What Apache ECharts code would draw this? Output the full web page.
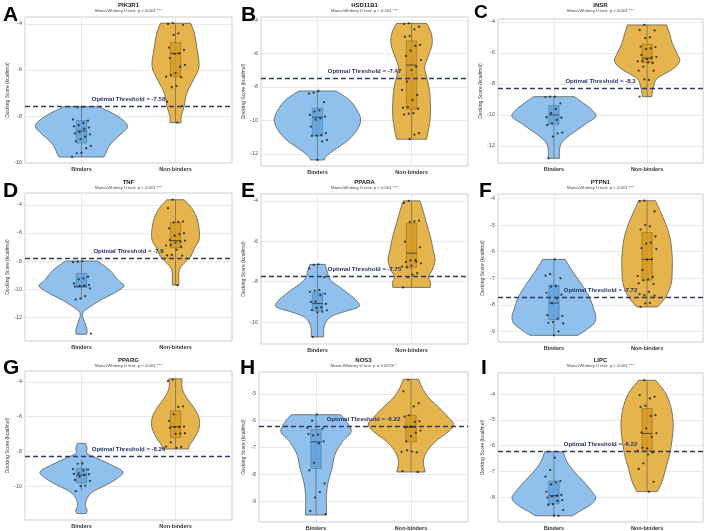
<!DOCTYPE html>
<html><head><meta charset="utf-8">
<script src="https://cdn.jsdelivr.net/npm/echarts@6/dist/echarts.min.js"></script>
<style>html,body{margin:0;padding:0;background:#fff}#c{width:708px;height:531px}</style>
</head><body><div id="c"></div>
<script>
// ---------- data ----------
const groups = ['Binders', 'Non-binders'];
const genes = ['PIK3R1', 'HSD11B1', 'INSR', 'TNF', 'PPARA', 'PTPN1', 'PPARG', 'NOS3', 'LIPC'];
const letters = ['A', 'B', 'C', 'D', 'E', 'F', 'G', 'H', 'I'];
const pTexts = ['p < 0.001 ***', 'p < 0.001 ***', 'p < 0.001 ***', 'p < 0.001 ***', 'p < 0.001 ***',
  'p < 0.001 ***', 'p < 0.001 ***', 'p = 0.0219 *', 'p < 0.001 ***'];
const thresholds = [-7.58, -7.47, -8.3, -7.8, -7.75, -7.72, -8.26, -6.22, -6.22];
const yTicks = [
  [-10, -8, -6, -4], [-12, -10, -8, -6, -4], [-12, -10, -8, -6, -4],
  [-12, -10, -8, -6, -4], [-10, -8, -6, -4], [-9, -8, -7, -6, -5, -4],
  [-10, -8, -6, -4], [-9, -8, -7, -6, -5], [-8, -7, -6, -5, -4]
];
const yRanges = [
  [-10.04, -3.70], [-12.72, -3.82], [-13.1, -3.81],
  [-13.69, -3.16], [-11.08, -3.66], [-9.4, -3.83],
  [-11.95, -3.38], [-9.77, -4.19], [-8.97, -3.18]
];

// docking scores (kcal/mol) per gene and group
const pik3r1Binders = [-7.6, -7.62, -8.15, -8.2, -8.3, -8.4, -8.45, -8.5, -8.55, -8.7, -8.75, -8.8, -8.9, -9.0, -9.1, -9.3, -9.4, -9.6, -9.62, -9.78];
const pik3r1NonBinders = [-3.97, -4.0, -4.04, -4.41, -4.48, -5.03, -5.13, -5.28, -5.3, -5.49, -5.78, -5.86, -6.14, -6.22, -6.29, -6.32, -6.7, -6.75, -7.38, -7.57, -8.29];
const hsd11b1Binders = [-8.24, -8.34, -8.4, -8.91, -9.4, -9.47, -9.67, -9.77, -9.87, -9.95, -10.37, -10.76, -10.87, -10.9, -10.92, -11.16, -11.25, -12.36];
const hsd11b1NonBinders = [-4.2, -4.24, -4.4, -4.56, -4.96, -5.0, -5.49, -5.55, -5.83, -6.15, -6.39, -6.79, -6.99, -7.68, -8.18, -8.48, -8.78, -9.2, -9.24, -9.3, -9.57, -9.6, -9.65, -10.76, -10.85, -11.12];
const insrBinders = [-8.82, -8.82, -8.85, -9.25, -9.63, -9.89, -10.15, -10.18, -10.32, -10.54, -10.65, -11.14, -11.19, -11.4, -12.8];
const insrNonBinders = [-4.19, -4.52, -4.55, -4.99, -5.05, -5.59, -5.62, -5.7, -5.75, -6.13, -6.25, -6.3, -6.4, -6.52, -6.55, -6.65, -6.6, -6.88, -7.14, -7.15, -7.74, -7.7, -8.82];
const tnfBinders = [-8.0, -8.05, -8.08, -9.12, -9.24, -9.3, -9.6, -9.7, -9.75, -9.79, -9.82, -9.95, -10.5, -10.67, -10.74, -13.17];
const tnfNonBinders = [-3.64, -4.24, -5.19, -5.22, -5.25, -5.67, -6.02, -6.1, -6.2, -6.5, -6.55, -6.62, -6.7, -6.86, -6.9, -7.0, -7.21, -7.57, -7.6, -7.62, -9.71];
const pparaBinders = [-7.14, -7.17, -7.34, -7.78, -8.41, -8.45, -8.5, -8.6, -8.66, -8.99, -9.0, -9.1, -9.27, -9.3, -9.4, -9.42, -9.49, -9.52, -10.73];
const pparaNonBinders = [-4.0, -4.1, -4.98, -5.02, -5.05, -6.02, -6.3, -6.93, -6.95, -7.02, -7.09, -7.0, -7.2, -7.29, -7.25, -7.58, -7.65, -7.78, -8.28];
const ptpn1Binders = [-6.29, -6.84, -6.9, -7.0, -7.3, -7.32, -7.55, -7.62, -7.76, -7.95, -8.39, -8.42, -8.52, -8.65, -8.68, -8.7, -9.0, -9.15];
const ptpn1NonBinders = [-4.08, -4.1, -4.48, -5.05, -5.0, -5.17, -5.43, -5.66, -5.7, -5.87, -5.9, -6.29, -6.3, -6.69, -6.92, -6.95, -7.04, -7.08, -7.19, -7.22, -7.51, -7.64, -7.6, -7.66, -7.93, -7.95, -8.08];
const ppargBinders = [-8.7, -8.72, -9.02, -9.05, -9.1, -9.27, -9.3, -9.32, -9.35, -9.46, -9.65, -9.7, -9.98, -10.0, -10.29];
const ppargNonBinders = [-3.88, -3.95, -5.42, -5.45, -5.87, -6.25, -6.58, -6.6, -6.62, -6.65, -6.96, -6.98, -7.0, -7.48, -7.73, -7.75, -7.8];
const nos3Binders = [-5.77, -6.0, -6.27, -6.3, -6.52, -6.55, -6.5, -6.77, -6.85, -7.57, -7.85, -8.34, -8.65, -8.86, -9.36, -9.48];
const nos3NonBinders = [-4.48, -4.91, -5.35, -5.47, -5.8, -5.85, -6.03, -6.05, -6.21, -6.25, -6.37, -6.45, -6.58, -6.77, -7.16, -7.18, -7.15, -7.1, -7.88, -7.91];
const lipcBinders = [-6.47, -6.95, -7.21, -7.38, -7.43, -7.51, -7.79, -7.92, -7.95, -7.98, -8.02, -8.12, -8.15, -8.28, -8.3, -8.5, -8.73, -8.72];
const lipcNonBinders = [-3.46, -4.04, -4.1, -4.17, -4.45, -4.5, -4.82, -4.85, -5.33, -5.49, -5.52, -5.66, -6.11, -6.08, -6.2, -6.27, -6.35, -6.69, -6.91, -7.41, -7.79];

// box statistics [lower whisker, Q1, median, Q3, upper whisker]
const boxBinders = [
  [-9.78, -9.17, -8.65, -8.2, -7.6], [-12.36, -10.93, -9.81, -9.27, -8.24], [-12.8, -10.6, -10.0, -9.4, -8.82],
  [-10.74, -9.88, -9.79, -8.88, -8.0], [-10.73, -9.44, -9.08, -8.55, -7.14], [-9.15, -8.56, -7.93, -7.26, -6.29],
  [-10.29, -9.81, -9.37, -8.98, -8.5], [-9.51, -7.78, -6.79, -6.33, -5.78], [-8.73, -8.27, -7.95, -7.38, -6.24]
];
const boxNonBinders = [
  [-8.29, -6.29, -5.28, -4.81, -3.97], [-11.12, -9.33, -6.69, -5.25, -4.2], [-8.82, -6.62, -6.34, -5.44, -4.19],
  [-9.71, -7.05, -6.55, -5.26, -3.64], [-8.28, -7.29, -6.59, -5.11, -4.0], [-8.08, -7.07, -6.29, -5.28, -4.08],
  [-7.87, -7.21, -6.58, -5.67, -3.83], [-7.91, -6.79, -6.25, -5.8, -4.46], [-7.79, -6.21, -5.53, -4.56, -3.46]
];

// violin density outlines [score, half width]
const violinBinders = [
  [[-7.6, 0.19], [-7.88, 0.33], [-8.17, 0.44], [-8.46, 0.49], [-8.75, 0.43], [-9.04, 0.35], [-9.33, 0.29], [-9.62, 0.26], [-9.78, 0.24]],
  [[-8.24, 0.2], [-8.78, 0.34], [-9.37, 0.42], [-9.97, 0.46], [-10.57, 0.42], [-11.16, 0.33], [-11.76, 0.18], [-12.16, 0.09], [-12.36, 0.075]],
  [[-8.82, 0.22], [-9.25, 0.32], [-9.68, 0.41], [-10.11, 0.45], [-10.54, 0.35], [-10.97, 0.25], [-11.4, 0.15], [-11.83, 0.08], [-12.26, 0.06], [-12.8, 0.06]],
  [[-8.0, 0.17], [-8.64, 0.3], [-9.36, 0.39], [-9.79, 0.45], [-10.31, 0.34], [-10.79, 0.2], [-11.26, 0.09], [-11.62, 0.02], [-11.98, 0.015], [-12.45, 0.04], [-12.93, 0.06], [-13.21, 0.055]],
  [[-7.14, 0.08], [-7.42, 0.1], [-7.92, 0.14], [-8.41, 0.28], [-8.91, 0.41], [-9.24, 0.44], [-9.49, 0.28], [-9.74, 0.14], [-10.15, 0.075], [-10.73, 0.065]],
  [[-6.29, 0.12], [-6.69, 0.19], [-7.19, 0.29], [-7.7, 0.38], [-8.2, 0.43], [-8.46, 0.45], [-8.71, 0.43], [-8.96, 0.34], [-9.15, 0.26]],
  [[-7.54, 0.045], [-7.83, 0.06], [-8.12, 0.06], [-8.4, 0.17], [-8.79, 0.32], [-9.18, 0.44], [-9.56, 0.38], [-9.94, 0.26], [-10.33, 0.12], [-10.71, 0.06], [-11.1, 0.04], [-11.39, 0.06], [-11.58, 0.05]],
  [[-5.78, 0.26], [-6.02, 0.32], [-6.4, 0.37], [-6.77, 0.28], [-7.26, 0.2], [-7.75, 0.17], [-8.25, 0.13], [-8.74, 0.11], [-9.23, 0.11], [-9.51, 0.11]],
  [[-6.24, 0.1], [-6.63, 0.14], [-7.02, 0.22], [-7.41, 0.32], [-7.79, 0.41], [-8.05, 0.45], [-8.31, 0.39], [-8.57, 0.27], [-8.73, 0.2]]
];
const violinNonBinders = [
  [[-3.97, 0.16], [-4.4, 0.2], [-5.13, 0.23], [-5.85, 0.25], [-6.43, 0.19], [-7.01, 0.12], [-7.6, 0.09], [-8.03, 0.06], [-8.29, 0.06]],
  [[-4.2, 0.16], [-4.8, 0.21], [-5.39, 0.22], [-5.99, 0.19], [-6.79, 0.14], [-7.38, 0.16], [-8.18, 0.19], [-8.97, 0.2], [-9.77, 0.2], [-10.57, 0.18], [-11.12, 0.16]],
  [[-4.19, 0.21], [-4.73, 0.24], [-5.38, 0.27], [-6.02, 0.32], [-6.56, 0.35], [-7.1, 0.26], [-7.63, 0.11], [-8.17, 0.07], [-8.82, 0.05]],
  [[-3.64, 0.09], [-4.12, 0.16], [-4.83, 0.22], [-5.67, 0.25], [-6.5, 0.25], [-7.1, 0.2], [-7.69, 0.16], [-8.17, 0.09], [-8.64, 0.04], [-9.36, 0.035], [-9.71, 0.035]],
  [[-4.0, 0.09], [-4.45, 0.12], [-5.11, 0.16], [-5.77, 0.2], [-6.43, 0.23], [-6.93, 0.25], [-7.42, 0.22], [-7.75, 0.18], [-8.0, 0.2], [-8.28, 0.2]],
  [[-4.08, 0.09], [-4.54, 0.15], [-5.05, 0.21], [-5.55, 0.25], [-6.19, 0.27], [-6.69, 0.27], [-7.19, 0.26], [-7.64, 0.21], [-7.89, 0.16], [-8.08, 0.11]],
  [[-3.83, 0.07], [-4.37, 0.07], [-4.94, 0.12], [-5.52, 0.2], [-6.1, 0.25], [-6.67, 0.25], [-7.25, 0.2], [-7.64, 0.15], [-7.87, 0.14]],
  [[-4.46, 0.08], [-4.79, 0.12], [-5.16, 0.19], [-5.53, 0.3], [-5.9, 0.4], [-6.15, 0.45], [-6.42, 0.39], [-6.77, 0.26], [-7.14, 0.17], [-7.51, 0.13], [-7.91, 0.15]],
  [[-3.46, 0.09], [-3.91, 0.19], [-4.43, 0.25], [-5.08, 0.28], [-5.72, 0.27], [-6.37, 0.24], [-6.89, 0.2], [-7.41, 0.16], [-7.79, 0.11]]
];

const scoresBinders = [pik3r1Binders, hsd11b1Binders, insrBinders, tnfBinders, pparaBinders, ptpn1Binders, ppargBinders, nos3Binders, lipcBinders];
const scoresNonBinders = [pik3r1NonBinders, hsd11b1NonBinders, insrNonBinders, tnfNonBinders, pparaNonBinders, ptpn1NonBinders, ppargNonBinders, nos3NonBinders, lipcNonBinders];

// ---------- layout ----------
const gridBoxes = [
  [25, 17, 207, 146], [261, 17, 207, 149], [498, 19, 205, 144],
  [25, 193, 207, 148], [261, 194, 207, 150], [498, 194, 205, 148],
  [25, 371, 207, 149], [259, 372, 209, 151], [498, 373, 205, 149]
];
const titleTops = [2, 2, 2, 179, 179, 179, 357, 357, 357];
const letterPos = [[3, 5], [241, 5], [474, 3], [3, 181], [241, 181], [479, 181], [3, 358], [240, 358], [481, 358]];

const FONT = 'Liberation Sans, Arial, sans-serif';
const fills = ['#8fc1ec', '#e5b44c'];
const boxFills = ['#63a2dc', '#d49a24'];
const boxStrokes = ['#3f6e9a', '#8a6416'];

function jitter(i) { return ((((i * 37) + 11) % 21) / 20 - 0.5) * 0.2; }

function spline(p) {
  let s = '';
  for (let i = 0; i < p.length - 1; i++) {
    const p0 = p[Math.max(i - 1, 0)], p1 = p[i], p2 = p[i + 1], p3 = p[Math.min(i + 2, p.length - 1)];
    const c1 = [p1[0] + (p2[0] - p0[0]) / 6, p1[1] + (p2[1] - p0[1]) / 6];
    const c2 = [p2[0] - (p3[0] - p1[0]) / 6, p2[1] - (p3[1] - p1[1]) / 6];
    s += ' C' + c1[0] + ' ' + c1[1] + ' ' + c2[0] + ' ' + c2[1] + ' ' + p2[0] + ' ' + p2[1];
  }
  return s;
}

const grid = [], xAxis = [], yAxis = [], series = [], title = [];
for (let i = 0; i < 9; i++) {
  const [l, t, w, h] = gridBoxes[i];
  grid.push({ left: l, top: t, width: w, height: h, show: true, borderColor: '#cdcdcd', borderWidth: 1, backgroundColor: 'transparent' });
  xAxis.push({
    gridIndex: i, type: 'value', min: 0.4, max: 2.6,
    axisLine: { show: false }, axisTick: { show: false, customValues: [1, 2] },
    axisLabel: { customValues: [1, 2], formatter: v => groups[Math.round(v) - 1], fontSize: 5.5, fontWeight: 'bold', color: '#333', margin: 3, fontFamily: FONT },
    splitLine: { show: true, lineStyle: { color: '#e4e4e4', width: 0.8 } }
  });
  yAxis.push({
    gridIndex: i, type: 'value', min: yRanges[i][0], max: yRanges[i][1],
    name: 'Docking Score (kcal/mol)', nameLocation: 'middle', nameGap: 13,
    nameTextStyle: { fontSize: 5, color: '#333', fontFamily: FONT },
    axisLine: { show: false }, axisTick: { show: false, customValues: yTicks[i] },
    axisLabel: { customValues: yTicks[i], fontSize: 5.5, color: '#555', margin: 3, fontFamily: FONT },
    splitLine: { show: true, lineStyle: { color: '#e4e4e4', width: 0.8 } }
  });
  title.push({
    text: letters[i], left: letterPos[i][0], top: letterPos[i][1], padding: 0, z: 0,
    textStyle: { fontSize: i === 2 ? 19 : 21, fontWeight: 'bold', color: '#000', fontFamily: FONT }
  });
  title.push({
    text: genes[i], subtext: 'Mann-Whitney U test: ' + pTexts[i],
    left: l + w / 2, top: titleTops[i], textAlign: 'center', padding: 0, itemGap: 1,
    textStyle: { fontSize: 6, fontWeight: 'bold', color: '#222', fontFamily: FONT },
    subtextStyle: { fontSize: 4.3, color: '#444', fontFamily: FONT }
  });
  const profiles = [violinBinders[i], violinNonBinders[i]];
  const boxes = [boxBinders[i], boxNonBinders[i]];
  // violins
  series.push({
    type: 'custom', xAxisIndex: i, yAxisIndex: i, silent: true, z: 1,
    data: [[1, profiles[0][0][0]], [2, profiles[1][0][0]]],
    renderItem: (params, api) => {
      const g = params.dataIndex + 1;
      const prof = profiles[params.dataIndex];
      const right = prof.map(([v, hw]) => api.coord([g + hw, v]));
      const left = prof.map(([v, hw]) => api.coord([g - hw, v])).reverse();
      const d = 'M' + right[0][0] + ' ' + right[0][1] + spline(right) +
        ' L' + left[0][0] + ' ' + left[0][1] + spline(left) + ' Z';
      return { type: 'path', shape: { pathData: d }, style: { fill: fills[params.dataIndex], stroke: '#4a4a4a', lineWidth: 0.7 } };
    }
  });
  // boxes
  series.push({
    type: 'custom', xAxisIndex: i, yAxisIndex: i, silent: true, z: 2,
    data: [[1, boxes[0][2]], [2, boxes[1][2]]],
    renderItem: (params, api) => {
      const k = params.dataIndex, g = k + 1, b = boxes[k], bw = 0.055;
      const top = api.coord([g, b[4]]), bot = api.coord([g, b[0]]);
      const q3 = api.coord([g - bw, b[3]]), q1 = api.coord([g + bw, b[1]]);
      const mL = api.coord([g - bw, b[2]]), mR = api.coord([g + bw, b[2]]);
      return {
        type: 'group', children: [
          { type: 'line', shape: { x1: top[0], y1: top[1], x2: bot[0], y2: bot[1] }, style: { stroke: '#555', lineWidth: 0.6 } },
          { type: 'rect', shape: { x: q3[0], y: q3[1], width: q1[0] - q3[0], height: q1[1] - q3[1] }, style: { fill: boxFills[k], opacity: 0.85, stroke: boxStrokes[k], lineWidth: 0.6 } },
          { type: 'line', shape: { x1: mL[0], y1: mL[1], x2: mR[0], y2: mR[1] }, style: { stroke: '#333', lineWidth: 0.8 } }
        ]
      };
    }
  });
  // points + threshold
  const pts = [];
  scoresBinders[i].forEach((v, j) => pts.push([1 + jitter(j), v]));
  scoresNonBinders[i].forEach((v, j) => pts.push([2 + jitter(j + 5), v]));
  series.push({
    type: 'scatter', xAxisIndex: i, yAxisIndex: i, silent: true, z: 3,
    symbolSize: 2.3, itemStyle: { color: '#1e1e1e', opacity: 0.8 },
    data: pts,
    markLine: {
      silent: true, symbol: ['none', 'none'], animation: false,
      lineStyle: { type: [5, 3], color: '#2f3a6c', width: 1.4 },
      label: { show: true, position: 'insideMiddleTop', distance: 4, formatter: 'Optimal Threshold = ' + thresholds[i], fontSize: 6, fontWeight: 'bold', color: '#27306a', fontFamily: FONT },
      data: [{ yAxis: thresholds[i] }]
    }
  });
}

const chart = echarts.init(document.getElementById('c'), null, { renderer: 'canvas' });
chart.setOption({ animation: false, backgroundColor: '#fff', textStyle: { fontFamily: FONT }, title, grid, xAxis, yAxis, series });
</script></body></html>
